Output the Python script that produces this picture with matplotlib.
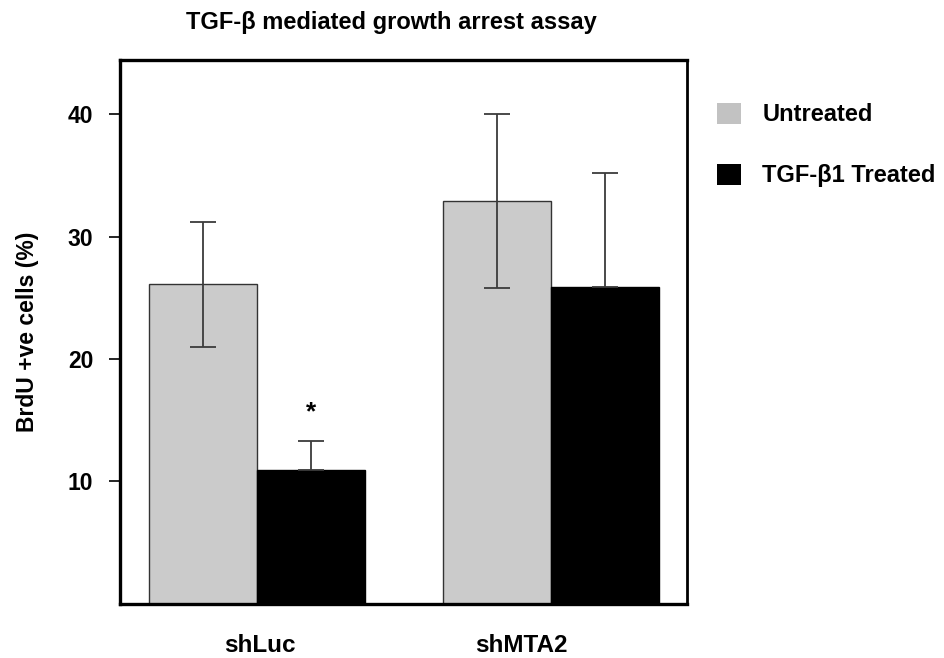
import numpy as np
import matplotlib
matplotlib.use('Agg')
import matplotlib.pyplot as plt
from matplotlib.patches import Patch

plt.rcParams['font.family'] = ['Liberation Sans', 'DejaVu Sans']
plt.rcParams['font.weight'] = 'bold'
plt.rcParams['axes.labelweight'] = 'bold'

# ── data ──────────────────────────────────────────────
groups = ['shLuc', 'shMTA2']
untreated = [26.1, 32.9]
untreated_err = [5.1, 7.1]
treated = [10.9, 25.9]
treated_err_up = [2.4, 9.3]
sig_marks = ['*', '']
yticks = [10, 20, 30, 40]

GREY = '#cbcbcb'
ERR = '#3c3c3c'

fig = plt.figure(figsize=(9.44, 6.58), dpi=100)
ax = fig.add_axes([0.127, 0.0825, 0.601, 0.8265])

x = np.arange(len(groups))
w = 0.367

ax.bar(x - w / 2, untreated, w, color=GREY, edgecolor='#333333', lw=1.0,
       yerr=untreated_err, ecolor=ERR,
       error_kw=dict(capsize=9.5, elinewidth=1.3, capthick=1.3))
ax.bar(x + w / 2, treated, w, color='black', edgecolor='black', lw=1.0,
       yerr=[np.zeros(len(treated)), treated_err_up], ecolor=ERR,
       error_kw=dict(capsize=9.5, elinewidth=1.3, capthick=1.3))

for xi, v, e, m in zip(x, treated, treated_err_up, sig_marks):
    if m:
        ax.text(xi + w / 2, v + e + 1.4, m, ha='center', va='bottom',
                fontsize=19, fontweight='bold')

ax.set_xlim(-0.466, 1.463)
ax.set_ylim(0, 44.45)
ax.set_yticks(yticks)
ax.tick_params(axis='y', direction='out', length=8, width=1.2,
               pad=11, labelsize=16.5)
# group labels sit a bit left of the bar pairs in the original
ax.set_xticks([0.01, 0.90])
ax.set_xticklabels(groups, fontsize=17.5)
ax.tick_params(axis='x', length=0, pad=22)

for side in ['left', 'bottom', 'top']:
    ax.spines[side].set_linewidth(2.4)
ax.spines['right'].set_linewidth(2.0)

ax.set_ylabel('BrdU +ve cells (%)', fontsize=16.5, labelpad=21)

fig.text(0.415, 0.966, 'TGF-β mediated growth arrest assay',
         ha='center', va='center', fontsize=17, fontweight='bold')

handles = [Patch(facecolor='#c2c2c2', edgecolor='none', label='Untreated'),
           Patch(facecolor='black', edgecolor='none', label='TGF-β1 Treated')]
fig.legend(handles=handles, loc='upper left', bbox_to_anchor=(0.760, 0.844),
           frameon=False, fontsize=17, handlelength=1.0, handleheight=1.0,
           handletextpad=0.9, labelspacing=1.58, borderpad=0,
           borderaxespad=0)

plt.savefig('out.png', dpi=100, facecolor='white')
